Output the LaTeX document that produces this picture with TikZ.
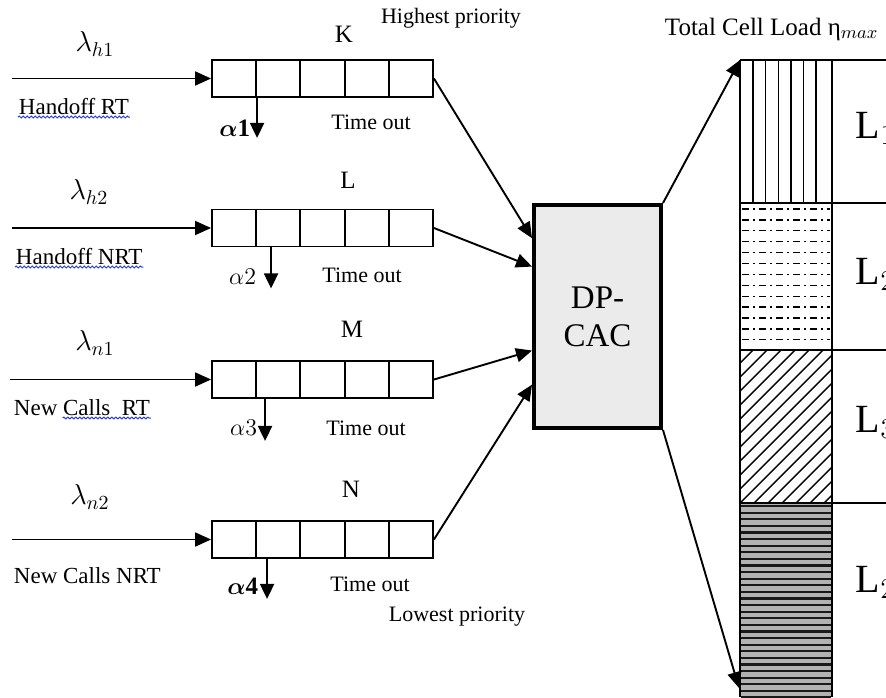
\documentclass[tikz,border=0pt]{standalone}
\usepackage{amsmath,amssymb,bm}
\usepackage{fontspec}
\setmainfont{Liberation Serif}
\usetikzlibrary{arrows.meta,positioning,calc,decorations.pathmorphing}
\definecolor{cInk}{HTML}{000000}
\definecolor{cBox}{HTML}{EBEBEB}
\definecolor{cSpell}{HTML}{2B3BD9}
\tikzset{
  every picture/.style={line width=0.95pt},
  queue/.style={draw=cInk, minimum width=110.5pt, minimum height=18.5pt, inner sep=0pt},
  cacbox/.style={draw=cInk, fill=cBox, line width=2.2pt, minimum width=63.3pt,
                 minimum height=111.3pt, align=center, inner sep=0pt,
                 font=\fontsize{16.5}{19}\selectfont},
  txt/.style={font=\fontsize{11}{13}\selectfont, inner sep=0pt},
  qlab/.style={font=\fontsize{12.5}{14}\selectfont, inner sep=0pt, anchor=base},
  srcl/.style={txt, font=\fontsize{11.5}{13}\selectfont, anchor=base west},
  rate/.style={font=\fontsize{14.5}{16}\selectfont, inner sep=0pt},
  alab/.style={font=\fontsize{12.5}{14}\selectfont, inner sep=0pt},
  llab/.style={font=\fontsize{20}{22}\selectfont, inner sep=0pt, anchor=base west},
  flow/.style={-{Triangle[length=8pt,width=7pt]}, draw=cInk},
  drop/.style={-{Triangle[length=7.5pt,width=7pt]}, draw=cInk},
  spell/.style={draw=cSpell, line width=0.5pt, decorate,
                decoration={snake, amplitude=0.45pt, segment length=2pt}},
}

\begin{document}
\begin{tikzpicture}[x=0.5pt,y=-0.5pt]
\useasboundingbox (0,0) rectangle (886,697);
\clip (0,0) rectangle (886,697);

% ------------------------------------------------------------ four queues
\node[queue] (q1) at (322.5,78.5) {};
\node[queue] (q2) at (322.5,228) {};
\node[queue] (q3) at (322.5,379.5) {};
\node[queue] (q4) at (322.5,539.5) {};
\foreach \q in {q1,q2,q3,q4}
  \foreach \i in {1,...,4}
    \draw ($(\q.north west)!\i/5!(\q.north east)$) -- ($(\q.south west)!\i/5!(\q.south east)$);

\node[qlab] (kk) at (344,42) {K};
\node[qlab] (ll) at (348,188) {L};
\node[qlab] (mm) at (352,337) {M};
\node[qlab] (nn) at (351,497) {N};

\node[txt] (hi) at (451,18) {Highest priority};
\node[txt] (lo) at (457,617) {Lowest priority};

% ------------------------------------------------------------ arrivals
\coordinate (in1) at (12,78.5);
\coordinate (in2) at (12,228);
\coordinate (in3) at (10,379.5);
\coordinate (in4) at (12,539.5);
\draw[flow] (in1) -- (q1.west);
\draw[flow] (in2) -- (q2.west);
\draw[flow] (in3) -- (q3.west);
\draw[flow] (in4) -- (q4.west);

\node[rate] (lh1) at (95,44) {$\lambda_{h1}$};
\node[rate] (lh2) at (89,192) {$\lambda_{h2}$};
\node[rate] (ln1) at (95,343) {$\lambda_{n1}$};
\node[rate] (ln2) at (90,497) {$\lambda_{n2}$};

\node[srcl] (hrt)  at (18,114) {Handoff RT};
\node[srcl] (hnrt) at (15,264) {Handoff NRT};
\node[srcl] (nrt)  at (13,415) {New Calls\ \ RT};
\node[srcl] (nnrt) at (13,583) {New Calls NRT};
\draw[spell] ($(hrt.base west)+(0,3)$) -- ($(hrt.base east)+(0,3)$);
\draw[spell] ($(hnrt.base west)+(0,3)$) -- ($(hnrt.base east)+(0,3)$);
\draw[spell] ($(nrt.base west)!0.36!(nrt.base east)+(0,3)$) -- ($(nrt.base east)+(0,3)$);

% ------------------------------------------------------------ time-outs
\draw[drop] ($(q1.south west)+(46,0)$) -- ++(0,40);
\draw[drop] ($(q2.south west)+(60,0)$) -- ++(0,41);
\draw[drop] ($(q3.south west)+(54,0)$) -- ++(0,42);
\draw[drop] ($(q4.south west)+(56,0)$) -- ++(0,40);

\node[alab, anchor=east] (a1) at (251,128) {$\bm{\alpha}\mathbf{1}$};
\node[alab, anchor=east] (a2) at (257,277) {$\alpha 2$};
\node[alab, anchor=east] (a3) at (258,428) {$\alpha 3$};
\node[alab, anchor=east] (a4) at (259,586) {$\bm{\alpha}\mathbf{4}$};

\node[txt] (t1) at (371,122) {Time out};
\node[txt] (t2) at (362,275) {Time out};
\node[txt] (t3) at (366,428) {Time out};
\node[txt] (t4) at (370,584) {Time out};

% ------------------------------------------------------------ controller
\node[cacbox] (cac) at (597.5,316.5) {DP-\\CAC};
\draw[flow] (q1.east) -- ($(cac.north west)!0.155!(cac.south west)$);
\draw[flow] (q2.east) -- ($(cac.north west)!0.28!(cac.south west)$);
\draw[flow] (q3.east) -- ($(cac.north west)!0.65!(cac.south west)$);
\draw[flow] (q4.east) -- ($(cac.north west)!0.80!(cac.south west)$);

% ------------------------------------------------------------ cell load column
\coordinate (ctop) at (740,60);
\coordinate (cbot) at (739,688);
\coordinate (d1) at (740,203);
\coordinate (d2) at (740,350);
\coordinate (d3) at (740,503);

% L1: vertical lines
\foreach \i in {0,...,5}
  \draw[line width=0.7pt] ({753+12.6*\i},60) -- ({753+12.6*\i},203);
% L2: dash-dot rows
\foreach \i in {0,...,12}
  \draw[line width=0.65pt, dash pattern=on 3.5pt off 2pt on 1pt off 2pt]
    (742,{209+10.9*\i}) -- (830,{209+10.9*\i});
% L3: hatching
\begin{scope}
  \clip (740,350) rectangle (832,503);
  \foreach \i in {-12,...,8}
    \draw[line width=0.7pt] ({740+14*\i},503) -- ++(165,-165);
\end{scope}
% L4: dense rows
\fill[black!30] (740,503) rectangle (832,697);
\foreach \i in {0,...,30}
  \draw[line width=1.1pt, black!90] (741,{506+6.6*\i}) -- (831,{506+6.6*\i});

\draw[line width=0.9pt] (ctop) -- (740,697);
\draw[line width=1.1pt] (832,60) -- (832,697);
\draw[line width=0.9pt] (ctop) -- (886,60);
\draw[line width=0.9pt] (d1) -- (886,203);
\draw[line width=0.9pt] (d2) -- (886,350);
\draw[line width=0.9pt] (d3) -- (886,503);

\node[txt, anchor=base west, font=\fontsize{12.5}{14}\selectfont] (tcl) at (664,35)
      {Total Cell Load η$_{max}$};

\draw[flow] (cac.north east) -- (ctop);
\draw[flow] (cac.south east) -- (cbot);

\node[llab] (l1) at (855,138) {L$_1$};
\node[llab] (l2) at (855,284) {L$_2$};
\node[llab] (l3) at (855,432) {L$_3$};
\node[llab] (l4) at (855,592) {L$_2$};

\end{tikzpicture}
\end{document}
